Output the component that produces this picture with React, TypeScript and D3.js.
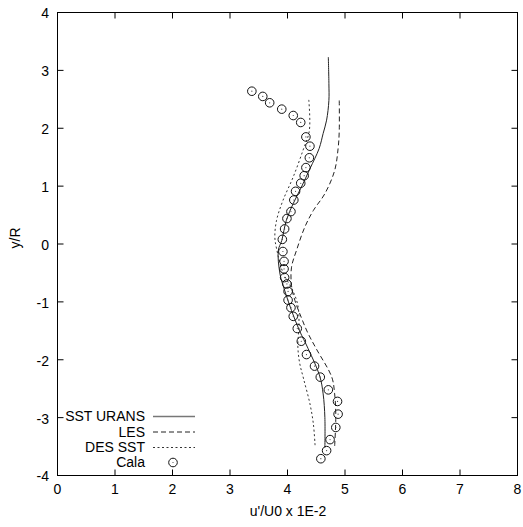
import React, { useRef, useEffect } from "react";
import * as d3 from "d3";

const xTicks = [0, 1, 2, 3, 4, 5, 6, 7, 8];
const yTicks = [-4, -3, -2, -1, 0, 1, 2, 3, 4];

// [u'/U0, y/R]
const sstUrans: [number, number][] = [
  [4.71, 3.23], [4.72, 2.77], [4.72, 2.48], [4.68, 2.14], [4.62, 1.91], [4.55, 1.65],
  [4.39, 1.3], [4.24, 0.98], [4.1, 0.7], [3.98, 0.41], [3.9, 0.06], [3.84, -0.11],
  [3.87, -0.52], [3.95, -0.8], [4.07, -1.15], [4.21, -1.5], [4.36, -1.81], [4.56, -2.28],
  [4.62, -2.59], [4.65, -3.0], [4.65, -3.52],
];
const les: [number, number][] = [
  [4.9, 2.48], [4.9, 1.96], [4.88, 1.65], [4.82, 1.27], [4.65, 0.87], [4.45, 0.58],
  [4.3, 0.29], [4.16, -0.1], [4.07, -0.4], [4.07, -0.72], [4.13, -0.98], [4.24, -1.27],
  [4.35, -1.53], [4.5, -1.81], [4.77, -2.3], [4.82, -2.59], [4.84, -2.97], [4.82, -3.49],
];
const desSst: [number, number][] = [
  [4.37, 2.49], [4.38, 1.96], [4.27, 1.62], [4.1, 1.16], [3.92, 0.75], [3.81, 0.41],
  [3.78, 0.12], [3.81, -0.08], [3.92, -0.49], [4.09, -0.8], [4.18, -1.06], [4.2, -1.41],
  [4.18, -1.76], [4.21, -2.05], [4.28, -2.33], [4.39, -2.76], [4.45, -3.11], [4.48, -3.49],
];
const cala: [number, number][] = [
  [3.38, 2.64], [3.57, 2.55], [3.69, 2.44], [3.9, 2.33], [4.1, 2.22], [4.23, 2.1],
  [4.32, 1.85], [4.39, 1.69], [4.38, 1.49], [4.32, 1.32], [4.29, 1.18], [4.23, 1.05],
  [4.14, 0.91], [4.11, 0.76], [4.06, 0.56], [3.99, 0.44], [3.95, 0.26], [3.91, 0.08],
  [3.92, -0.13], [3.94, -0.3], [3.94, -0.43], [3.95, -0.58], [3.99, -0.69], [4.01, -0.82],
  [4.01, -0.97], [4.06, -1.1], [4.1, -1.25], [4.17, -1.46], [4.24, -1.68], [4.33, -1.91],
  [4.47, -2.11], [4.57, -2.3], [4.71, -2.52], [4.87, -2.72], [4.88, -2.94], [4.84, -3.17],
  [4.74, -3.38], [4.68, -3.57], [4.58, -3.71],
];

const legendNames = ["SST URANS", "LES", "DES SST", "Cala"];

const App = () => {
  const ref = useRef<SVGSVGElement>(null);

  useEffect(() => {
    const svg = d3.select(ref.current);
    svg.selectAll("*").remove();
    const font = "'Liberation Sans', Arial, Helvetica, sans-serif";

    const x = d3.scaleLinear().domain([0, 8]).range([57.5, 517.5]);
    const y = d3.scaleLinear().domain([-4, 4]).range([475.5, 12.5]);
    const tickLen = 6;

    const g = svg.append("g");

    // ticks on all four sides, pointing in
    xTicks.forEach((t) => {
      g.append("line").attr("x1", x(t)).attr("x2", x(t))
        .attr("y1", y(-4)).attr("y2", y(-4) - tickLen).attr("stroke", "#000");
      g.append("line").attr("x1", x(t)).attr("x2", x(t))
        .attr("y1", y(4)).attr("y2", y(4) + tickLen).attr("stroke", "#000");
      g.append("text").attr("x", x(t)).attr("y", 494)
        .attr("text-anchor", "middle").style("font-family", font).style("font-size", "14px")
        .text(t);
    });
    yTicks.forEach((t) => {
      g.append("line").attr("x1", x(0)).attr("x2", x(0) + tickLen)
        .attr("y1", y(t)).attr("y2", y(t)).attr("stroke", "#000");
      g.append("line").attr("x1", x(8)).attr("x2", x(8) - tickLen)
        .attr("y1", y(t)).attr("y2", y(t)).attr("stroke", "#000");
      g.append("text").attr("x", 49).attr("y", y(t) + 1).attr("dy", "0.35em")
        .attr("text-anchor", "end").style("font-family", font).style("font-size", "14px")
        .text(t);
    });

    g.append("rect").attr("x", x(0)).attr("y", y(4))
      .attr("width", x(8) - x(0)).attr("height", y(-4) - y(4))
      .attr("fill", "none").attr("stroke", "#000");

    g.append("text").attr("x", 288).attr("y", 516).attr("text-anchor", "middle")
      .style("font-family", font).style("font-size", "14px").text("u'/U0 x 1E-2");
    g.append("text").attr("transform", "translate(20,238) rotate(-90)")
      .attr("text-anchor", "middle").style("font-family", font).style("font-size", "14px")
      .text("y/R");

    const line = d3.line<[number, number]>()
      .x((d) => x(d[0])).y((d) => y(d[1]))
      .curve(d3.curveCatmullRom);

    const styles = [
      { data: sstUrans, dash: null, color: "#222" },
      { data: les, dash: "5,3", color: "#222" },
      { data: desSst, dash: "2,2.5", color: "#333" },
    ];
    styles.forEach((s) => {
      g.append("path").attr("d", line(s.data)).attr("fill", "none")
        .attr("stroke", s.color).attr("stroke-width", 1)
        .attr("stroke-dasharray", s.dash);
    });

    const pts = g.selectAll(".cala").data(cala).enter().append("g");
    pts.append("circle").attr("cx", (d) => x(d[0])).attr("cy", (d) => y(d[1]))
      .attr("r", 4.3).attr("fill", "none").attr("stroke", "#111").attr("stroke-width", 1);
    pts.append("circle").attr("cx", (d) => x(d[0])).attr("cy", (d) => y(d[1]))
      .attr("r", 0.6).attr("fill", "#444");

    // legend
    const rowY = [416.5, 432, 447.5, 462.5];
    legendNames.forEach((name, i) => {
      g.append("text").attr("x", 145).attr("y", rowY[i]).attr("dy", "0.35em")
        .attr("text-anchor", "end").style("font-family", font).style("font-size", "14px")
        .text(name);
      if (i < 3) {
        g.append("line").attr("x1", 153).attr("x2", 195)
          .attr("y1", rowY[i]).attr("y2", rowY[i])
          .attr("stroke", i === 0 ? "#777" : styles[i].color).attr("stroke-width", i === 0 ? 1.5 : 1)
          .attr("stroke-dasharray", styles[i].dash);
      } else {
        g.append("circle").attr("cx", 173).attr("cy", rowY[i]).attr("r", 4.3)
          .attr("fill", "none").attr("stroke", "#111");
        g.append("circle").attr("cx", 173).attr("cy", rowY[i]).attr("r", 0.6).attr("fill", "#444");
      }
    });
  }, []);

  return (
    <svg
      ref={ref}
      width={523}
      height={527}
      style={{ position: "absolute", left: 0, top: 0, background: "#fff" }}
    />
  );
};

export default App;
